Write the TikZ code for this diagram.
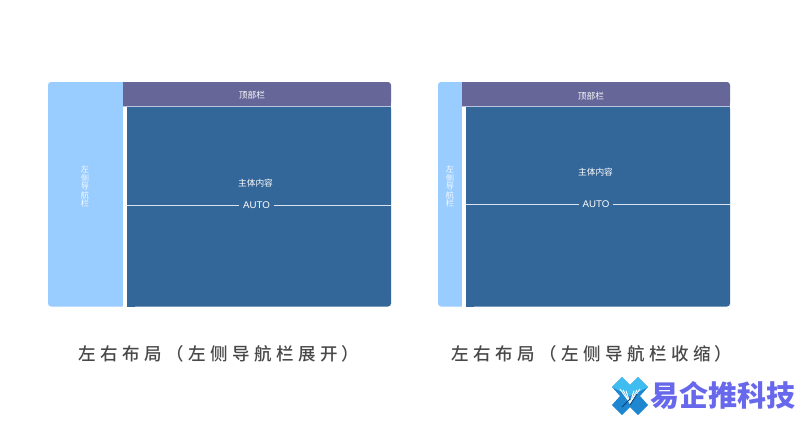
\documentclass[tikz,border=0pt]{standalone}
\usepackage{fontspec}
\newfontfamily\cjk{Noto Sans CJK SC}
\newfontfamily\cjktitle[LetterSpace=25.7]{Noto Sans CJK SC Medium}
\newfontfamily\cjklogo{Noto Sans CJK SC Black}
\setsansfont{Liberation Sans}
\definecolor{sidec}{HTML}{99CCFF}
\definecolor{headc}{HTML}{666699}
\definecolor{mainc}{HTML}{336699}
\definecolor{titlec}{HTML}{484848}
\definecolor{logoc}{HTML}{6868EC}
\definecolor{logob}{HTML}{1F86D0}
\definecolor{logol}{HTML}{3FBDF0}
\definecolor{logod}{HTML}{0F3F78}
\definecolor{edgec}{HTML}{B9C4DC}
\tikzset{
  x=1pt,y=-1pt,
  small/.style={text=white,font=\cjk\fontsize{8.7}{8.6}\selectfont,inner sep=0pt,align=center},
  sidetxt/.style={text=white!92!sidec,font=\cjk\fontsize{8.2}{8.6}\selectfont,inner sep=0pt,align=center},
  autotxt/.style={text=white,font=\sffamily\fontsize{9.7}{10}\selectfont,inner sep=3.5pt,fill=mainc},
  titletxt/.style={text=titlec,font=\cjktitle\fontsize{17.5}{18}\selectfont,inner sep=0pt,anchor=west},
  rule/.style={white!82!mainc,line width=.9pt},
  hrule/.style={edgec,line width=.7pt},
}
\begin{document}
\begin{tikzpicture}
\useasboundingbox (0,0) rectangle (800,424);
\fill[white] (0,0) rectangle (800,424);
% left layout
\fill[sidec,rounded corners=3pt] (130,82) -- (48,82) -- (48,306.5) -- (130,306.5) -- cycle;
\fill[white] (123,82) rectangle (127,307);
\fill[headc,rounded corners=3pt] (120,82) -- (391,82) -- (391,106) -- (120,106) -- cycle;
\fill[headc] (123,100) rectangle (391,106);
\fill[white] (115,78) rectangle (123,82);
\fill[sidec] (115,82) rectangle (123,106);
\fill[mainc,rounded corners=3pt] (127,106) -- (391,106) -- (391,306.5) -- (127,306.5) -- cycle;
\fill[mainc] (127,106) rectangle (135,306.5);
\fill[mainc] (380,106) rectangle (391,112);
\draw[hrule] (123,106) -- (391,106);
\node[small] (ltop) at (252,95.5) {顶部栏};
\node[sidetxt] (lside) at (85,186.5) {左\\侧\\导\\航\\栏};
\node[small] (lmain) at (255.5,183.5) {主体内容};
\node[autotxt] (lauto) at (256.5,205) {AUTO};
\coordinate (ll) at (127,205);
\coordinate (lr) at (391,205);
\draw[rule] (ll) -- (ll-|lauto.west);
\draw[rule] (lr-|lauto.east) -- (lr);
% right layout
\fill[sidec,rounded corners=3pt] (469,82) -- (438,82) -- (438,306.5) -- (469,306.5) -- cycle;
\fill[white] (462,82) rectangle (466,307);
\fill[headc,rounded corners=3pt] (459,82) -- (730,82) -- (730,106) -- (459,106) -- cycle;
\fill[headc] (462,100) rectangle (730,106);
\fill[sidec] (455,82) rectangle (462,106);
\fill[mainc,rounded corners=3pt] (466,106) -- (730,106) -- (730,306.5) -- (466,306.5) -- cycle;
\fill[mainc] (466,106) rectangle (474,306.5);
\fill[mainc] (720,106) rectangle (730,112);
\draw[hrule] (462,106) -- (730,106);
\node[small] (rtop) at (591,96) {顶部栏};
\node[sidetxt] (rside) at (450,186.5) {左\\侧\\导\\航\\栏};
\node[small] (rmain) at (595.5,172) {主体内容};
\node[autotxt] (rauto) at (596,204) {AUTO};
\coordinate (rl) at (466,204);
\coordinate (rr) at (730,204);
\draw[rule] (rl) -- (rl-|rauto.west);
\draw[rule] (rr-|rauto.east) -- (rr);
% titles
\node[titletxt] (lt) at (78,353.5) {左右布局（左侧导航栏展开\kern4pt）};
\node[titletxt] (rt) at (451,353.5) {左右布局（左侧导航栏收缩\kern4pt）};
% logo mark
\fill[logob] (622,377) -- (630,385) -- (638,377) -- (648,387) -- (640,396) -- (648,405) -- (638,415) -- (630,407) -- (622,415) -- (612,405) -- (620,396) -- (612,387) -- cycle;
\fill[logol] (622,377) -- (630,385) -- (638,377) -- (648,387) -- (630,396) -- (612,387) -- cycle;
\foreach \d in {0,3,6}{
  \draw[white,line width=.9pt] (620+\d,389+\d*.3) -- (630,403) -- (640-\d,389+\d*.3);
}
\draw[logod,line width=.9pt] (622,407) -- (630,399);
\draw[logod,line width=.8pt] (630,405) -- (637,394);
% logo words
\node[text=logoc,font=\cjklogo\fontsize{29}{30}\selectfont,inner sep=0pt] (logo) at (723,395) {易企推科技};
\end{tikzpicture}
\end{document}
